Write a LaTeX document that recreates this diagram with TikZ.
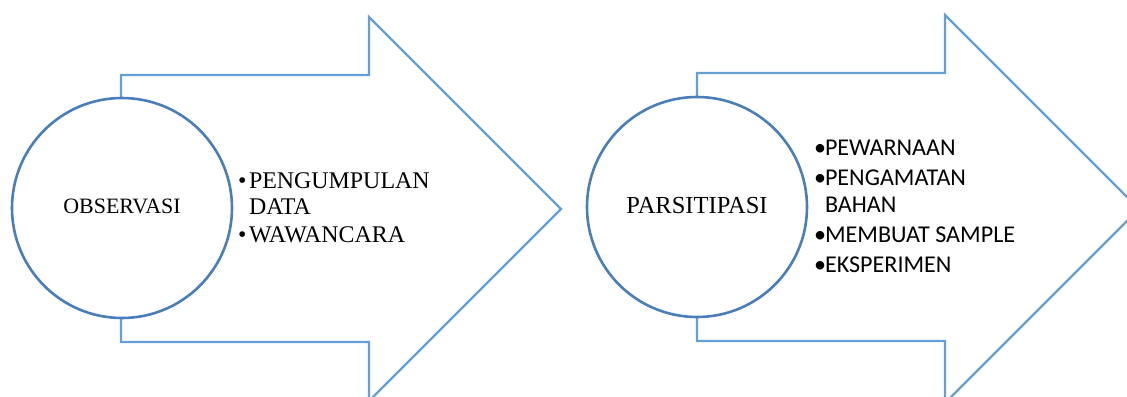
\documentclass[tikz,border=0pt]{standalone}
\usepackage{fontspec}
\setmainfont{Liberation Serif}
\newfontfamily\calib{Carlito}
\definecolor{arrowblue}{RGB}{100,160,215}
\definecolor{circblue}{RGB}{74,126,187}
\begin{document}
\begin{tikzpicture}[x=1bp,y=-1bp,
  arrowshape/.style={draw=arrowblue,line width=2.2bp,fill=white,line join=miter},
  circshape/.style={draw=circblue,line width=2.6bp,fill=white,circle,minimum size=220bp,inner sep=0pt},
  lbl/.style={anchor=base west,inner sep=0pt,outer sep=0pt},
  serifitem/.style={lbl,font=\fontsize{24}{25}\selectfont},
  sansitem/.style={lbl,font=\calib\fontsize{24.2}{25}\selectfont}]
\useasboundingbox (0,0) rectangle (1127,396);
\clip (0,0) rectangle (1127,396);
% left arrow
\draw[arrowshape] (121,75) -- (369,75) -- (369,17) -- (561,209) -- (369,401) -- (369,342) -- (121,342) -- cycle;
\node[circshape] (c1) at (122,208) {};
\node[anchor=base,inner sep=0pt,font=\fontsize{22}{24}\selectfont] (t1) at (122,213) {OBSERVASI};
% right arrow
\draw[arrowshape] (697,73) -- (945,73) -- (945,15) -- (1139,209) -- (945,403) -- (945,341) -- (697,341) -- cycle;
\node[circshape] (c2) at (697,207) {};
\node[anchor=base,inner sep=0pt,font=\fontsize{24.6}{26}\selectfont] (t2) at (697,213) {PARSITIPASI};
% left bullets
\node[serifitem] (lb1) at (238,188) {•};
\node[serifitem] (li1) at (249,188) {PENGUMPULAN};
\node[serifitem] (li1b) at (249,214) {DATA};
\node[serifitem] (lb2) at (238,242) {•};
\node[serifitem] (li2) at (249,242) {WAWANCARA};
% right bullets
\node[sansitem] (rb1) at (814,155) {•};
\node[sansitem] (ri1) at (825,155) {PEWARNAAN};
\node[sansitem] (rb2) at (814,185) {•};
\node[sansitem] (ri2) at (825,185) {PENGAMATAN};
\node[sansitem] (ri2b) at (825,212) {BAHAN};
\node[sansitem] (rb3) at (814,242) {•};
\node[sansitem] (ri3) at (825,242) {MEMBUAT SAMPLE};
\node[sansitem] (rb4) at (814,272) {•};
\node[sansitem] (ri4) at (825,272) {EKSPERIMEN};
\end{tikzpicture}
\end{document}
